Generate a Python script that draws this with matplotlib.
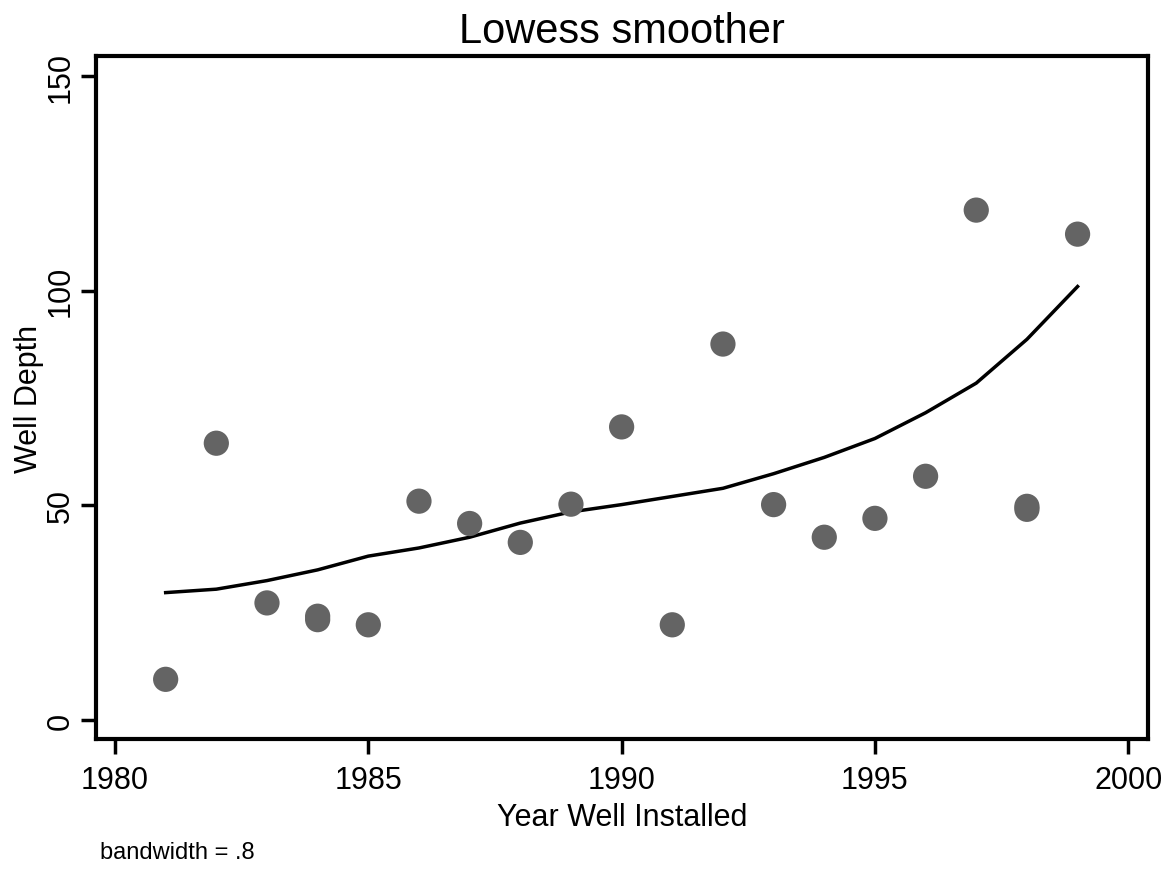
import matplotlib
matplotlib.use('Agg')
import matplotlib.pyplot as plt

plt.rcParams['font.family'] = ['Liberation Sans', 'DejaVu Sans']

# 관측값
year = [1981, 1982, 1983, 1984, 1984, 1985, 1986, 1987, 1988, 1989, 1990,
        1991, 1992, 1993, 1994, 1995, 1996, 1997, 1998, 1998, 1999]
depth = [9.5, 64.5, 27.3, 24.2, 23.4, 22.2, 51.0, 45.8, 41.4, 50.3, 68.3,
         22.2, 87.6, 50.2, 42.6, 47.0, 56.8, 118.8, 49.8, 49.1, 113.2]

# lowess 곡선
fit_year = [1981, 1982, 1983, 1984, 1985, 1986, 1987, 1988, 1989, 1990,
            1991, 1992, 1993, 1994, 1995, 1996, 1997, 1998, 1999]
fit_depth = [29.7, 30.5, 32.5, 35.0, 38.2, 40.1, 42.6, 45.9, 48.5, 50.2,
             52.1, 54.0, 57.4, 61.2, 65.6, 71.6, 78.5, 88.7, 101.0]

fig = plt.figure(figsize=(11.7, 8.7), dpi=100)
ax = fig.add_axes([96/1170, 1 - 740/870, (1148-96)/1170, (740-57)/870])

ax.scatter(year, depth, s=330, color='#646464', edgecolors='none', zorder=3)
ax.plot(fit_year, fit_depth, color='black', linewidth=2.5, zorder=2)

ax.set_xlim(1979.625, 2000.39)
ax.set_ylim(-4.4, 154.7)
ax.set_xticks([1980, 1985, 1990, 1995, 2000])
ax.set_yticks([0, 50, 100, 150])
ax.tick_params(axis='both', direction='out', length=11, width=2.5, labelsize=22)
ax.tick_params(axis='x', pad=8)
for lab in ax.get_yticklabels():
    lab.set_rotation(90)
    lab.set_va('center')
for s in ax.spines.values():
    s.set_linewidth(3)

ax.set_xlabel('Year Well Installed', fontsize=22, labelpad=5)
ax.set_ylabel('Well Depth', fontsize=22, labelpad=1)
ax.set_title('Lowess smoother', fontsize=30, pad=10)

fig.text(100/1170, 1 - 853/870, 'bandwidth = .8', fontsize=17, va='center')

fig.savefig('out.png', dpi=100)
